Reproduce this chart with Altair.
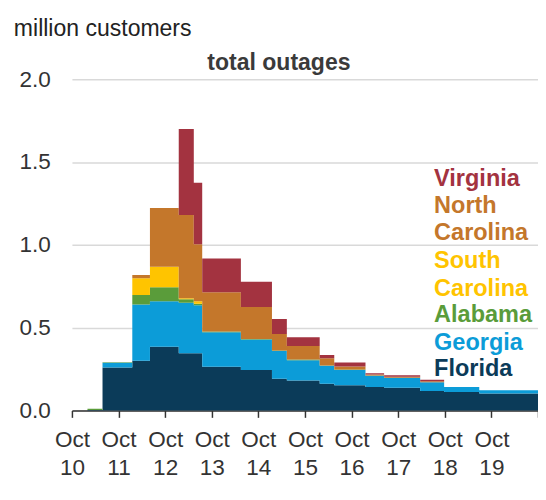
import altair as alt
import pandas as pd

# ---- data ----
times = ["2018-10-10T00:00", "2018-10-10T08:00", "2018-10-10T15:45", "2018-10-11T07:05",
         "2018-10-11T16:10", "2018-10-12T07:00", "2018-10-12T14:45", "2018-10-12T19:05",
         "2018-10-13T15:00", "2018-10-14T07:00", "2018-10-14T14:40", "2018-10-15T07:35",
         "2018-10-15T15:05", "2018-10-16T07:10", "2018-10-16T16:45", "2018-10-17T11:20",
         "2018-10-17T23:40", "2018-10-18T17:45", "2018-10-20T00:00"]
florida = [0, 0.003, 0.26, 0.30, 0.385, 0.345, 0.345, 0.264, 0.244, 0.191, 0.181, 0.162,
           0.152, 0.142, 0.138, 0.118, 0.112, 0.102, 0.102]
georgia = [0, 0, 0.028, 0.34, 0.274, 0.305, 0.29, 0.208, 0.184, 0.168, 0.123, 0.108,
           0.092, 0.068, 0.059, 0.052, 0.030, 0.020, 0.020]
alabama = [0, 0.008, 0.004, 0.058, 0.085, 0.022, 0.01, 0.005, 0.004, 0.003, 0.004, 0.002,
           0.003, 0.002, 0.001, 0.001, 0, 0, 0]
south_carolina = [0, 0, 0, 0.10, 0.124, 0.005, 0.015, 0, 0, 0, 0, 0, 0, 0, 0, 0, 0, 0, 0]
north_carolina = [0, 0, 0, 0.02, 0.355, 0.503, 0.344, 0.237, 0.193, 0.100, 0.081, 0.043,
                  0.018, 0.006, 0.006, 0.006, 0, 0, 0]
virginia = [0, 0, 0, 0, 0, 0.52, 0.371, 0.203, 0.152, 0.09, 0.053, 0.02, 0.025, 0.007,
            0.009, 0.008, 0, 0, 0]

states = ["Florida", "Georgia", "Alabama", "South Carolina", "North Carolina", "Virginia"]
colors = ["#0B3B59", "#0C9CD8", "#5A9C3A", "#FFC400", "#C4772B", "#A33340"]
series = [florida, georgia, alabama, south_carolina, north_carolina, virginia]

label_texts = ["Virginia", "North", "Carolina", "South", "Carolina", "Alabama", "Georgia", "Florida"]
label_states = ["Virginia", "North Carolina", "North Carolina", "South Carolina",
                "South Carolina", "Alabama", "Georgia", "Florida"]
label_values = [1.354, 1.190, 1.029, 0.861, 0.693, 0.532, 0.368, 0.211]
label_time = "2018-10-17T18:30"

# ---- build tables ----
rows = []
for i, (st, vals) in enumerate(zip(states, series)):
    for t, v in zip(times, vals):
        rows.append({"time": t, "state": st, "value": v, "ord": i})
df = pd.DataFrame(rows)

labels_df = pd.DataFrame({"label": label_texts, "state": label_states,
                          "value": label_values, "time": [label_time] * len(label_texts)})

FONT = "Liberation Sans"
color_scale = alt.Scale(domain=states, range=colors)
x_scale = alt.Scale(domain=[alt.DateTime(year=2018, month=10, date=10),
                            alt.DateTime(year=2018, month=10, date=20)])
y_scale = alt.Scale(domain=[0, 2], nice=False)

tick_values = [alt.DateTime(year=2018, month=10, date=d) for d in range(10, 21)]

areas = alt.Chart(df).mark_area(interpolate="step-after").encode(
    x=alt.X("time:T", scale=x_scale,
            axis=alt.Axis(values=tick_values, title=None, grid=False,
                          labelExpr="date(datum.value) == 20 ? '' : ['Oct', '' + date(datum.value)]",
                          labelFontSize=23, labelColor="#333", labelLineHeight=28,
                          labelPadding=12, labelAngle=0, labelOverlap=False, labelBound=False,
                          labelFlush=False,
                          domainColor="#333", domainWidth=1.5, tickColor="#333",
                          tickSize=7, tickWidth=1.5)),
    y=alt.Y("value:Q", stack="zero", scale=y_scale,
            axis=alt.Axis(values=[0, 0.5, 1.0, 1.5, 2.0], format=".1f", title=None,
                          domain=False, ticks=False, labelPadding=22, labelFontSize=23,
                          labelColor="#333", gridColor="#d9d9d9", gridWidth=1.5)),
    color=alt.Color("state:N", scale=color_scale, legend=None),
    order=alt.Order("ord:Q", sort="ascending"),
)

labels = alt.Chart(labels_df).mark_text(
    align="left", baseline="alphabetic", fontWeight="bold", fontSize=24, font=FONT
).encode(
    x=alt.X("time:T", scale=x_scale),
    y=alt.Y("value:Q", scale=y_scale),
    text="label:N",
    color=alt.Color("state:N", scale=color_scale, legend=None),
)

title_df = pd.DataFrame({"t": ["total outages"]})
title_txt = alt.Chart(title_df).mark_text(
    align="center", baseline="alphabetic", fontWeight="bold", fontSize=23.5, font=FONT,
    color="#3a3a3a"
).encode(x=alt.value(211.4), y=alt.value(-9), text="t:N")

unit_df = pd.DataFrame({"t": ["million customers"]})
unit_txt = alt.Chart(unit_df).mark_text(
    align="left", baseline="alphabetic", fontSize=23.5, font=FONT, color="#222"
).encode(x=alt.value(-59.3), y=alt.value(-44), text="t:N")

chart = alt.layer(areas, labels, title_txt, unit_txt).properties(
    width=476, height=338.3,
    autosize=alt.AutoSizeParams(type="none"),
    padding={"left": 65.3, "top": 67.7, "right": 0, "bottom": 70},
).configure(font=FONT).configure_view(stroke=None).configure_axis(labelFont=FONT)

chart.save("out.html", embed_options={"renderer": "svg", "actions": False})
